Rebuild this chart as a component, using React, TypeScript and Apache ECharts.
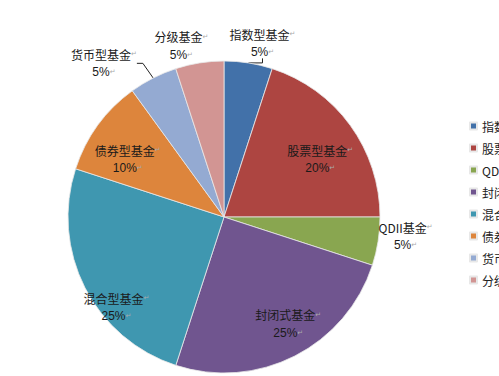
import React, { useEffect, useRef } from "react";
import * as echarts from "echarts";

const categories = ["指数型基金", "股票型基金", "QDII基金", "封闭式基金", "混合型基金", "债券型基金", "货币型基金", "分级基金"];
const shares = [5, 20, 5, 25, 25, 10, 5, 5];
const colors = ["#4271a9", "#ad4541", "#89a650", "#70558f", "#3f97b0", "#dd853c", "#94aad2", "#d29593"];
// label placement in polar terms: [fraction of radius, angle clockwise from top in degrees]
const labelPolar: [number, number][] = [
  [1.14, 12.5],
  [0.72, 59],
  [1.17, 96],
  [0.8, 149],
  [0.9, 230],
  [0.72, 301],
  [1.25, 322],
  [1.13, 346],
];
const withLeader = [true, false, false, false, false, false, true, false];

const CX = 224;
const CY = 217;
const R = 156;

export default function App() {
  const ref = useRef<HTMLDivElement>(null);
  useEffect(() => {
    if (!ref.current) return;
    const chart = echarts.init(ref.current, null, { renderer: "svg" });
    const data = categories.map((name, i) => ({
      name,
      value: shares[i],
      itemStyle: { color: colors[i] },
      labelLine: { show: withLeader[i], length: 6, length2: 6, lineStyle: { color: "#222", width: 1 } },
    }));
    chart.setOption({
      animation: false,
      backgroundColor: "#ffffff",
      legend: {
        orient: "vertical",
        left: 464,
        top: 114,
        itemWidth: 7,
        itemHeight: 7,
        itemGap: 8,
        icon: "rect",
        data: categories,
        textStyle: { fontSize: 12, color: "#222", lineHeight: 14, fontFamily: "Noto Sans CJK SC" },
      },
      series: [
        {
          type: "pie",
          center: [CX, CY],
          radius: [0, R],
          startAngle: 90,
          clockwise: true,
          avoidLabelOverlap: false,
          itemStyle: { borderColor: "#e8e8e8", borderWidth: 0.8 },
          label: {
            show: true,
            position: "outside",
            fontFamily: "Noto Sans CJK SC",
            formatter: (p: any) => `{n|${p.name}}{r|↵}\n{p|${p.value}%}{r|↵}`,
            rich: {
              n: { fontSize: 12, color: "#1a1a1a", fontFamily: "Noto Sans CJK SC", lineHeight: 18 },
              p: { fontSize: 12, color: "#1a1a1a", fontFamily: "Liberation Sans", lineHeight: 18 },
              r: { fontSize: 7, color: "#aaaaaa", fontFamily: "DejaVu Sans" },
            },
          },
          labelLine: { show: false },
          labelLayout: (params: any) => {
            const [f, a] = labelPolar[params.dataIndex];
            const rad = (a * Math.PI) / 180;
            return {
              x: CX + f * R * Math.sin(rad),
              y: CY - f * R * Math.cos(rad),
              align: "center",
              verticalAlign: "middle",
            };
          },
          data,
        },
      ],
    });
    return () => chart.dispose();
  }, []);
  return <div ref={ref} style={{ position: "absolute", left: 0, top: 0, width: 499, height: 376 }} />;
}
